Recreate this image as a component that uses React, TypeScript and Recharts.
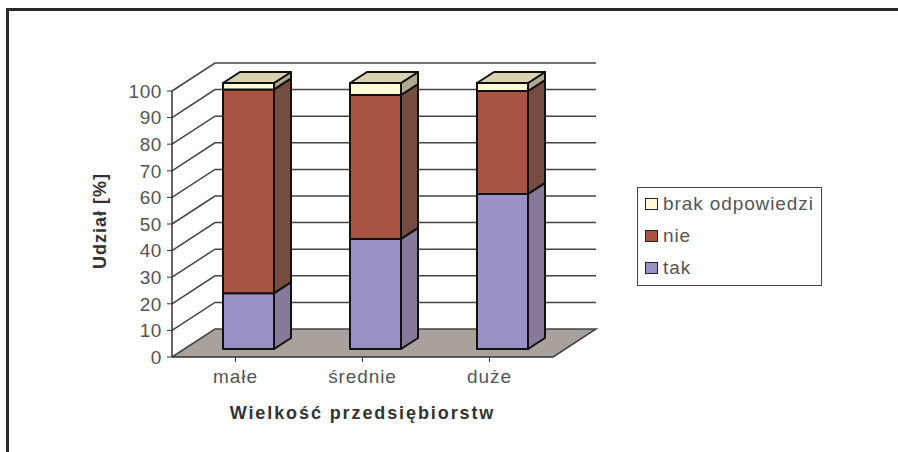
import React from "react";
import { BarChart, Bar, XAxis, YAxis, CartesianGrid, Legend, Label } from "recharts";

const categories = ["małe", "średnie", "duże"];
const takValues = [21, 41.4, 58.3];
const nieValues = [76.6, 54.1, 38.7];
const brakValues = [2.4, 4.5, 3];
const yTicks = [0, 10, 20, 30, 40, 50, 60, 70, 80, 90, 100];
const seriesNames = { tak: "tak", nie: "nie", brak: "brak odpowiedzi" };
const xTitle = "Wielkość przedsiębiorstw";
const yTitle = "Udział [%]";

const data = categories.map((name, i) => ({
  name,
  tak: takValues[i],
  nie: nieValues[i],
  brak: brakValues[i],
}));

const TEXT = "#555555";
const FONT = "'Liberation Sans', Arial, sans-serif";
const WALL_DX = 43;
const WALL_DY = -28;
const BAR_SHIFT_X = 13;
const BAR_SHIFT_Y = -8;
const BAR_DX = 17;
const BAR_DY = -11;
const EDGE = "#111111";

const GridLine = (props: any) => {
  const { x1, x2, y1, y2 } = props;
  const floor = Math.abs(y1 - 357) < 1;
  return (
    <g>
      {floor && (
        <polygon
          points={`${x1},${y1} ${x2},${y2} ${x2 + WALL_DX},${y2 + WALL_DY} ${x1 + WALL_DX},${y1 + WALL_DY}`}
          fill="#A9A19C"
        />
      )}
      <polyline
        points={`${x1},${y1} ${x1 + WALL_DX},${y1 + WALL_DY} ${x2 + WALL_DX},${y2 + WALL_DY}${floor ? ` ${x2},${y2}` : ""}`}
        fill="none"
        stroke="#444"
        strokeWidth={1.5}
      />
    </g>
  );
};

const makeShape = (front: string, side: string, top?: string) => (props: any) => {
  const { x, y, width, height } = props;
  const l = x + BAR_SHIFT_X;
  const t = y + BAR_SHIFT_Y;
  const r = l + width;
  const b = t + height;
  return (
    <g stroke={EDGE} strokeWidth={2} strokeLinejoin="round">
      <polygon
        points={`${r},${t} ${r + BAR_DX},${t + BAR_DY} ${r + BAR_DX},${b + BAR_DY} ${r},${b}`}
        fill={side}
      />
      {top && (
        <polygon
          points={`${l},${t} ${r},${t} ${r + BAR_DX},${t + BAR_DY} ${l + BAR_DX},${t + BAR_DY}`}
          fill={top}
        />
      )}
      <rect x={l} y={t} width={width} height={height} fill={front} />
    </g>
  );
};

const LegendBox = ({ payload }: any) => (
  <div
    style={{
      width: 185,
      height: 99,
      boxSizing: "border-box",
      border: "1.5px solid #444",
      background: "#fff",
      fontFamily: FONT,
      fontSize: 19,
      letterSpacing: 0.9,
      color: TEXT,
      paddingTop: 0,
      paddingLeft: 7,
    }}
  >
    {(payload ?? []).map((p: any) => (
      <div key={p.value} style={{ display: "flex", alignItems: "center", height: 32 }}>
        <span
          style={{
            width: 11,
            height: 10,
            background: p.color,
            border: "1.5px solid #222",
            marginRight: 5,
            display: "inline-block",
          }}
        />
        <span>{p.value}</span>
      </div>
    ))}
  </div>
);

export default function App() {
  return (
    <div style={{ position: "absolute", left: 0, top: 0, width: 898, height: 452, background: "#fff", overflow: "hidden" }}>
      <div
        style={{
          position: "absolute",
          left: 6,
          top: 8,
          width: 900,
          height: 460,
          boxSizing: "border-box",
          borderTop: "3px solid #2a2a2a",
          borderLeft: "3px solid #2a2a2a",
        }}
      />
      <BarChart
        width={898}
        height={452}
        data={data}
        margin={{ left: 0, right: 160, top: 91, bottom: 0 }}
        barSize={51}
        style={{ position: "absolute", left: 0, top: 0 }}
      >
        <CartesianGrid vertical={false} horizontal={(p: any) => <GridLine key={p.index ?? p.y1} {...p} />} />
        <XAxis
          dataKey="name"
          tickLine={{ stroke: "#333" }}
          axisLine={{ stroke: "#333", strokeWidth: 1.5 }}
          tick={{ fill: TEXT, fontSize: 19, fontFamily: FONT, letterSpacing: 0.9 }}
          tickSize={5}
          tickMargin={8}
          height={95}
        >
          <Label
            value={xTitle}
            position="insideTop"
            offset={49}
            style={{ fill: "#333", fontSize: 18, fontWeight: 700, fontFamily: FONT, letterSpacing: 1.9 }}
          />
        </XAxis>
        <YAxis
          width={172}
          domain={[0, 100]}
          ticks={yTicks}
          interval={0}
          tickLine={{ stroke: "#333" }}
          axisLine={{ stroke: "#333", strokeWidth: 1.5 }}
          tick={{ fill: TEXT, fontSize: 19, fontFamily: FONT, letterSpacing: 0.6 }}
          tickSize={5}
          tickMargin={5}
        >
          <Label
            content={() => (
              <text
                x={106}
                y={221}
                transform="rotate(-90 106 221)"
                textAnchor="middle"
                fill="#333"
                fontSize={18}
                fontWeight={700}
                fontFamily={FONT}
                letterSpacing={1}
              >
                {yTitle}
              </text>
            )}
          />
        </YAxis>
        <Legend
          layout="vertical"
          align="right"
          verticalAlign="top"
          content={<LegendBox />}
          wrapperStyle={{ position: "absolute", left: 637, top: 187, width: 185, height: 99 }}
        />
        <Bar dataKey="tak" name={seriesNames.tak} stackId="a" fill="#9A91C6" isAnimationActive={false} shape={makeShape("#9A91C6", "#86799A")} />
        <Bar dataKey="nie" name={seriesNames.nie} stackId="a" fill="#A85442" isAnimationActive={false} shape={makeShape("#A85442", "#744C40")} />
        <Bar dataKey="brak" name={seriesNames.brak} stackId="a" fill="#FFFBD8" isAnimationActive={false} shape={makeShape("#FFFBD8", "#B0A890", "#D9D2B0")} />
      </BarChart>
    </div>
  );
}
